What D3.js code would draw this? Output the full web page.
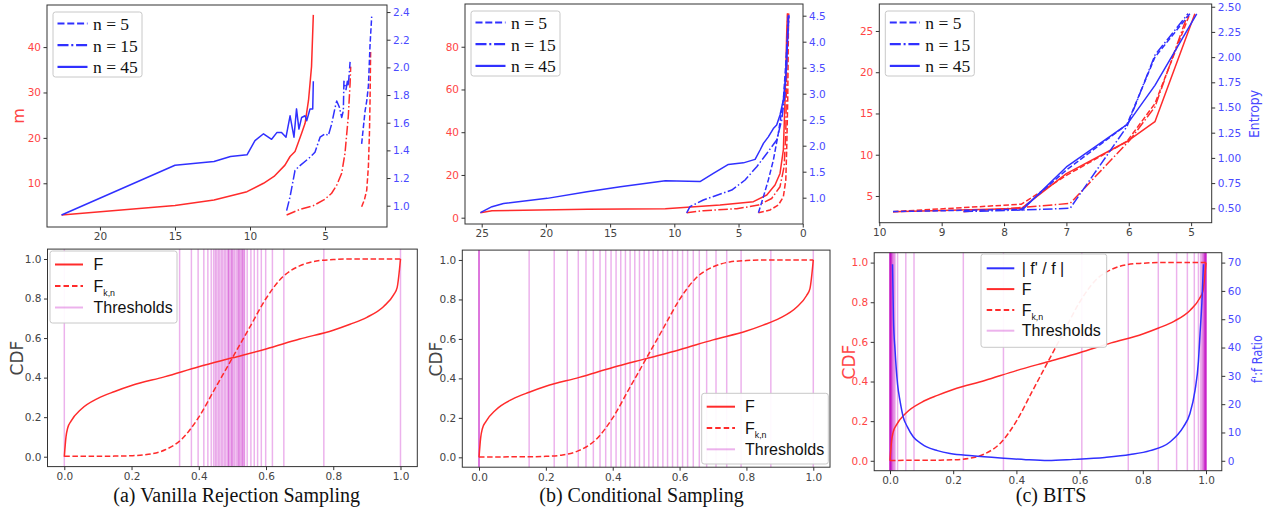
<!DOCTYPE html>
<html>
<head>
<meta charset="utf-8">
<script src="https://cdn.jsdelivr.net/npm/d3@7"></script>
<style>
  body { margin: 0; background: #fff; }
  svg { display: block; }
</style>
</head>
<body>
<svg id="fig" width="1273" height="509"></svg>
<script>
// ---- top row: m (left axis, red) and entropy (right axis, blue) vs x ----
// (a) vanilla rejection sampling
const aMX45 = [22.56, 15.0, 12.4, 10.2, 9.1, 8.4, 7.67, 7.33, 7.0, 6.8, 6.56, 6.33, 6.1, 5.9, 5.78];
const aM45  = [3.0, 5.1, 6.3, 8.15, 10.0, 11.5, 14.0, 15.9, 17.0, 18.8, 21.0, 23.2, 28.3, 35.7, 47.1];
const aEX45 = [22.56, 15.0, 12.4, 11.3, 10.2, 9.67, 9.1, 8.56, 8.2, 7.9, 7.6, 7.33, 7.07, 6.9, 6.74, 6.56, 6.33, 6.22, 6.0, 5.82, 5.78];
const aE45  = [0.933, 1.292, 1.32, 1.356, 1.368, 1.47, 1.52, 1.48, 1.53, 1.53, 1.495, 1.65, 1.495, 1.70, 1.554, 1.638, 1.65, 1.614, 1.70, 1.70, 1.90];
const aMX15 = [7.56, 6.67, 5.78, 5.0, 4.56, 4.22, 3.89, 3.67, 3.45, 3.33, 3.29];
const aM15  = [3.0, 4.26, 5.07, 6.5, 7.8, 9.6, 12.2, 16.6, 24.7, 32.0, 35.7];
const aEX15 = [7.56, 7.33, 7.0, 6.67, 6.0, 5.67, 5.33, 5.0, 4.78, 4.56, 4.33, 4.22, 4.05, 3.89, 3.78, 3.74, 3.6, 3.51, 3.45, 3.33];
const aE15  = [0.964, 1.065, 1.256, 1.29, 1.35, 1.387, 1.495, 1.52, 1.507, 1.59, 1.71, 1.757, 1.714, 1.638, 1.686, 1.90, 1.84, 1.90, 1.865, 2.04];
const aMX5  = [2.56, 2.38, 2.22, 2.11, 2.04, 2.0, 1.96];
const aM5   = [4.85, 6.3, 8.5, 13.7, 21.0, 28.3, 39.4];
const aEX5  = [2.56, 2.33, 2.22, 2.11, 2.0, 1.89];
const aE5   = [1.447, 1.686, 1.757, 1.865, 2.164, 2.367];

// (b) conditional sampling
const bMX45 = [25.1, 24.2, 16.8, 10.7, 6.44, 3.84, 2.8, 2.16, 1.77, 1.51, 1.38, 1.25, 1.19];
const bM45  = [2.34, 3.3, 3.9, 4.2, 5.9, 7.5, 10.6, 15.3, 20.7, 31.7, 55, 86, 95.6];
const bEX45 = [25.1, 24.2, 23.3, 19.9, 16.8, 14.2, 10.7, 8.0, 6.96, 5.79, 4.62, 3.71, 3.32, 3.06, 2.68, 2.29, 2.03, 1.77, 1.51, 1.25, 1.12];
const bE45  = [0.712, 0.827, 0.89, 0.987, 1.115, 1.21, 1.327, 1.31, 1.468, 1.64, 1.67, 1.737, 1.917, 2.045, 2.17, 2.33, 2.4, 2.59, 2.88, 3.52, 4.48];
const bMX15 = [9.04, 7.74, 5.14, 3.45, 2.42, 1.77, 1.45, 1.32, 1.25, 1.17];
const bM15  = [2.34, 3.3, 4.2, 5.9, 9.0, 14.5, 23.9, 39.5, 70.7, 95.6];
const bEX15 = [9.04, 8.78, 7.74, 5.53, 4.49, 3.58, 2.8, 2.03, 1.64, 1.38, 1.25, 1.12];
const bE15  = [0.71, 0.827, 0.955, 1.147, 1.34, 1.596, 1.85, 2.11, 2.49, 3.0, 3.84, 4.51];
const bMX5  = [3.45, 2.55, 1.9, 1.51, 1.32, 1.25, 1.17, 1.12, 1.09];
const bM5   = [2.34, 3.6, 5.9, 9.8, 17.6, 31.7, 55, 86, 95.6];
const bEX5  = [3.45, 3.06, 2.68, 2.29, 1.9, 1.51, 1.25, 1.06];
const bE5   = [0.71, 1.02, 1.34, 1.72, 2.24, 2.88, 3.84, 4.51];

// (c) BITS
const cMX45 = [9.78, 7.72, 7.0, 6.03, 5.58, 4.94];
const cM45  = [3.1, 3.5, 7.7, 11.6, 14.0, 27.1];
const cEX45 = [7.72, 7.0, 6.03, 5.58, 4.91];
const cE45  = [0.477, 0.91, 1.33, 1.72, 2.43];
const cMX15 = [8.65, 7.72, 6.94, 5.98, 5.58, 5.05];
const cM15  = [3.1, 3.6, 4.1, 11.8, 15.8, 27.1];
const cEX15 = [8.65, 7.72, 6.94, 6.03, 5.58, 5.05];
const cE15  = [0.467, 0.483, 0.5, 1.31, 2.02, 2.43];
const cMX5  = [9.78, 7.72, 7.0, 6.03, 5.58, 5.02];
const cM5   = [3.1, 4.0, 7.5, 11.6, 16.2, 27.1];
const cEX5  = [9.78, 7.72, 7.0, 6.03, 5.58, 5.02];
const cE5   = [0.467, 0.49, 0.88, 1.33, 2.0, 2.43];

// ---- bottom row: CDFs ----
const fX = [0, 0.005, 0.01, 0.02, 0.05, 0.1, 0.15, 0.2, 0.3, 0.4, 0.5, 0.6, 0.7, 0.8, 0.85, 0.9, 0.95, 0.98, 0.99, 1.0];
const fY = [0, 0.1, 0.145, 0.18, 0.24, 0.295, 0.33, 0.36, 0.405, 0.455, 0.5, 0.545, 0.595, 0.64, 0.67, 0.705, 0.76, 0.82, 0.855, 1.0];
const kX = [0, 0.15, 0.2, 0.25, 0.3, 0.35, 0.4, 0.45, 0.5, 0.55, 0.6, 0.65, 0.7, 0.75, 0.8, 0.85, 1.0];
const kY = [0.002, 0.003, 0.005, 0.012, 0.035, 0.09, 0.2, 0.35, 0.5, 0.65, 0.8, 0.91, 0.965, 0.99, 0.997, 1.0, 1.0];
const rX = [0.008, 0.011, 0.016, 0.024, 0.032, 0.042, 0.055, 0.074, 0.1, 0.116, 0.15, 0.19, 0.26, 0.35, 0.43, 0.5, 0.58, 0.68, 0.76, 0.823, 0.886, 0.928, 0.949, 0.965, 0.976, 0.981, 0.987, 0.992];
const rY = [69.4, 50, 39, 27, 21, 15.4, 12, 8.4, 6.0, 4.9, 3.6, 2.6, 1.8, 1.0, 0.4, 0.1, 0.5, 1.2, 2.2, 3.6, 6.65, 11.9, 16.6, 24.7, 35, 44.6, 56, 69.4];

const aThr = [0.0, 0.343, 0.378, 0.398, 0.415, 0.427, 0.437, 0.444, 0.449, 0.453, 0.458, 0.462, 0.467, 0.471,
  0.476, 0.480, 0.485, 0.489, 0.489, 0.494, 0.498, 0.499, 0.503, 0.507, 0.512, 0.516, 0.519, 0.521, 0.525,
  0.529, 0.530, 0.534, 0.536, 0.544, 0.555, 0.565, 0.575, 0.586, 0.599, 0.619, 0.653, 0.772, 1.0];
const bThr = [0.0, 0.0, 0.0, 0.150, 0.225, 0.264, 0.297, 0.320, 0.342, 0.362, 0.379, 0.395, 0.410, 0.424, 0.438, 0.452,
  0.466, 0.480, 0.494, 0.508, 0.521, 0.535, 0.550, 0.564, 0.579, 0.594, 0.609, 0.624, 0.641, 0.659, 0.681, 0.709,
  0.741, 0.784, 0.873, 1.0];
const cThr = [0.0, 0.0, 0.0, 0.0005, 0.001, 0.0015, 0.002, 0.003, 0.004, 0.005, 0.006, 0.008, 0.010, 0.013, 0.016,
  0.024, 0.05, 0.076, 0.232, 0.359, 0.607, 0.754, 0.849, 0.907, 0.941, 0.963, 0.976, 0.983, 0.987, 0.990, 0.992,
  0.994, 0.995, 0.996, 0.997, 0.998, 0.999, 1.0, 1.0, 1.0];

const cdfTicks = [0, 0.2, 0.4, 0.6, 0.8, 1.0];
const captions = ["(a) Vanilla Rejection Sampling", "(b) Conditional Sampling", "(c) BITS"];

const RED = "#ff2b2b", BLUE = "#3030ff", THR = "#bf00bf";
const RED_T = "#ff4545", BLUE_T = "#4a4aff", GRAY_T = "#444";
const DASH = "5.5,2.4", DASHDOT = "9.6,2.4,1.5,2.4";
const KDASH = "5.5,2.6";

const svg = d3.select("#fig");

function frame(box) {
  svg.append("rect")
    .attr("x", box.l).attr("y", box.t)
    .attr("width", box.r - box.l).attr("height", box.b - box.t)
    .attr("fill", "none").attr("stroke", "#333").attr("stroke-width", 1);
}

function axis(gen, pos, color, fmt, size) {
  const g = svg.append("g").attr("transform", pos)
    .call(gen.tickSize(3.5).tickPadding(2.5).tickFormat(fmt));
  g.select(".domain").remove();
  g.selectAll(".tick line").attr("stroke", "#333");
  g.selectAll(".tick text").attr("fill", color)
    .style("font-family", "DejaVu Sans").style("font-size", size + "px");
  return g;
}

function line(xs, ys, x, y, color, dash, curve, w) {
  const pts = xs.map((v, i) => [v, ys[i]]);
  svg.append("path")
    .datum(pts)
    .attr("d", d3.line().x(d => x(d[0])).y(d => y(d[1])).curve(curve || d3.curveLinear))
    .attr("fill", "none").attr("stroke", color).attr("stroke-width", w || 1.5)
    .attr("stroke-dasharray", dash || null)
    .attr("stroke-linejoin", "round");
}

function legend(box, items, font, fs) {
  const lg = svg.append("g").attr("transform", `translate(${box.x},${box.y})`);
  lg.append("rect").attr("width", box.w).attr("height", box.h).attr("rx", 2.5)
    .attr("fill", "#fff").attr("fill-opacity", 0.92).attr("stroke", "#c8c8c8");
  items.forEach((it, i) => {
    const yy = box.first + i * box.step;
    lg.append("line")
      .attr("x1", box.lx).attr("x2", box.lx + box.lw).attr("y1", yy).attr("y2", yy)
      .attr("stroke", it.color).attr("stroke-width", it.w || 2)
      .attr("stroke-opacity", it.op || 1)
      .attr("stroke-dasharray", it.dash || null);
    const t = lg.append("text")
      .attr("x", box.lx + box.lw + box.gap).attr("y", yy + fs * 0.36)
      .style("font-family", font).style("font-size", fs + "px").attr("fill", "#111");
    if (it.sub) {
      t.append("tspan").text(it.label);
      t.append("tspan").text(it.sub).attr("dy", 4).style("font-size", (fs * 0.55) + "px");
    } else {
      t.text(it.label);
    }
  });
}

function vlabel(txt, x, y, color, fs, len) {
  const t = svg.append("text")
    .attr("transform", `translate(${x},${y}) rotate(-90)`)
    .attr("text-anchor", "middle")
    .style("font-family", "DejaVu Sans").style("font-size", fs + "px")
    .attr("fill", color).text(txt);
  if (len) t.attr("textLength", len).attr("lengthAdjust", "spacingAndGlyphs");
}

// ================= top row =================
const topPanels = [
  { box: { l: 47, r: 387, t: 5, b: 227 }, xd: [23.53, 0.87], md: [0.37, 49.27], ed: [0.846, 2.451],
    xt: [20, 15, 10, 5], mt: [10, 20, 30, 40], et: [1.0, 1.2, 1.4, 1.6, 1.8, 2.0, 2.2, 2.4], ef: d3.format(".1f"),
    m: [[aMX45, aM45, null], [aMX15, aM15, DASHDOT], [aMX5, aM5, DASH]],
    e: [[aEX45, aE45, null], [aEX15, aE15, DASHDOT], [aEX5, aE5, DASH]] },
  { box: { l: 465, r: 803, t: 4, b: 224 }, xd: [26.3, -0.02], md: [-2.95, 100], ed: [0.494, 4.725],
    xt: [25, 20, 15, 10, 5, 0], mt: [0, 20, 40, 60, 80], et: [1.0, 1.5, 2.0, 2.5, 3.0, 3.5, 4.0, 4.5], ef: d3.format(".1f"),
    m: [[bMX45, bM45, null], [bMX15, bM15, DASHDOT], [bMX5, bM5, DASH]],
    e: [[bEX45, bE45, null], [bEX15, bE15, DASHDOT], [bEX5, bE5, DASH]] },
  { box: { l: 879.3, r: 1211.7, t: 4, b: 222.7 }, xd: [10, 4.67], md: [1.76, 28.27], ed: [0.357, 2.527],
    xt: [10, 9, 8, 7, 6, 5], mt: [5, 10, 15, 20, 25], et: [0.5, 0.75, 1.0, 1.25, 1.5, 1.75, 2.0, 2.25, 2.5], ef: d3.format(".2f"),
    m: [[cMX45, cM45, null], [cMX15, cM15, DASHDOT], [cMX5, cM5, DASH]],
    e: [[cEX45, cE45, null], [cEX15, cE15, DASHDOT], [cEX5, cE5, DASH]] }
];

topPanels.forEach(p => {
  const b = p.box;
  const x = d3.scaleLinear().domain(p.xd).range([b.l, b.r]);
  const ym = d3.scaleLinear().domain(p.md).range([b.b, b.t]);
  const ye = d3.scaleLinear().domain(p.ed).range([b.b, b.t]);
  p.m.forEach(s => line(s[0], s[1], x, ym, RED, s[2]));
  p.e.forEach(s => line(s[0], s[1], x, ye, BLUE, s[2]));
  frame(b);
  axis(d3.axisBottom(x).tickValues(p.xt), `translate(0,${b.b})`, GRAY_T, d3.format("d"), 10.5);
  axis(d3.axisLeft(ym).tickValues(p.mt), `translate(${b.l},0)`, RED_T, d3.format("d"), 10.5);
  axis(d3.axisRight(ye).tickValues(p.et), `translate(${b.r},0)`, BLUE_T, p.ef, 10.5);
  legend({ x: b.l + 6, y: b.t + 7, w: 89, h: 65, first: 11.5, step: 21.7, lx: 4.5, lw: 30, gap: 5.5 }, [
    { label: "n = 5", color: BLUE, dash: "7,2.8", w: 2.2 },
    { label: "n = 15", color: BLUE, dash: "11,2.8,2,2.8", w: 2.2 },
    { label: "n = 45", color: BLUE, w: 2.2 }
  ], "Liberation Serif", 17.5);
});

vlabel("m", 23.5, 116, RED_T, 16);
vlabel("Entropy", 1259, 114, BLUE_T, 13.5, 48);

// ================= bottom row =================
const botPanels = [
  { box: { l: 47.5, r: 417.3, t: 249.1, b: 466.6 }, thr: aThr, ratio: false,
    leg: { x: 50, y: 251, w: 127, h: 72, first: 13.5, step: 21.5, lx: 5, lw: 28, gap: 10.5 } },
  { box: { l: 462.3, r: 830, t: 250.1, b: 467.2 }, thr: bThr, ratio: false,
    leg: { x: 701.7, y: 393.3, w: 126.6, h: 70.7, first: 13.4, step: 21.3, lx: 5, lw: 28.3, gap: 10 } },
  { box: { l: 874.2, r: 1221.8, t: 252.7, b: 470.7 }, thr: cThr, ratio: true,
    leg: { x: 981, y: 254, w: 125.7, h: 93.3, first: 14.3, step: 20.8, lx: 5.7, lw: 27.6, gap: 7.4 } }
];

botPanels.forEach((p, i) => {
  const b = p.box;
  const x = d3.scaleLinear().domain([-0.05, 1.05]).range([b.l, b.r]);
  const y = d3.scaleLinear().domain([-0.05, 1.05]).range([b.b, b.t]);

  svg.append("g").selectAll("line")
    .data(p.thr)
    .enter()
    .append("line")
    .attr("x1", d => x(d)).attr("x2", d => x(d))
    .attr("y1", b.t).attr("y2", b.b)
    .attr("stroke", THR).attr("stroke-width", 1.5).attr("stroke-opacity", 0.3);

  line(fX, fY, x, y, RED, null, d3.curveMonotoneX);
  line(kX, kY, x, y, RED, KDASH, d3.curveMonotoneX);

  let yr = null;
  if (p.ratio) {
    yr = d3.scaleLinear().domain([-3.5, 73.5]).range([b.b, b.t]);
    line(rX, rY, x, yr, BLUE, null, d3.curveMonotoneX);
  }

  frame(b);
  axis(d3.axisBottom(x).tickValues(cdfTicks), `translate(0,${b.b})`, GRAY_T, d3.format(".1f"), 10.5);
  axis(d3.axisLeft(y).tickValues(cdfTicks), `translate(${b.l},0)`, p.ratio ? RED_T : GRAY_T, d3.format(".1f"), 10.5);
  if (p.ratio) {
    axis(d3.axisRight(yr).tickValues([0, 10, 20, 30, 40, 50, 60, 70]), `translate(${b.r},0)`, BLUE_T, d3.format("d"), 10.5);
  }

  const items = [];
  if (p.ratio) items.push({ label: "| f' / f |", color: BLUE });
  items.push({ label: "F", color: RED });
  items.push({ label: "F", sub: "k,n", color: RED, dash: "5.5,3" });
  items.push({ label: "Thresholds", color: THR, op: 0.3 });
  legend(p.leg, items, "Liberation Sans", 16);

  svg.append("text")
    .attr("x", [236.7, 641.5, 1051][i]).attr("y", 502)
    .attr("text-anchor", "middle")
    .style("font-family", "Liberation Serif").style("font-size", "20px")
    .attr("fill", "#111").text(captions[i]);
});

vlabel("CDF", 23, 358, GRAY_T, 17);
vlabel("CDF", 442, 359, GRAY_T, 17);
vlabel("CDF", 855, 362, RED_T, 17);
vlabel("f':f Ratio", 1262, 359, BLUE_T, 13.5, 48);
</script>
</body>
</html>
